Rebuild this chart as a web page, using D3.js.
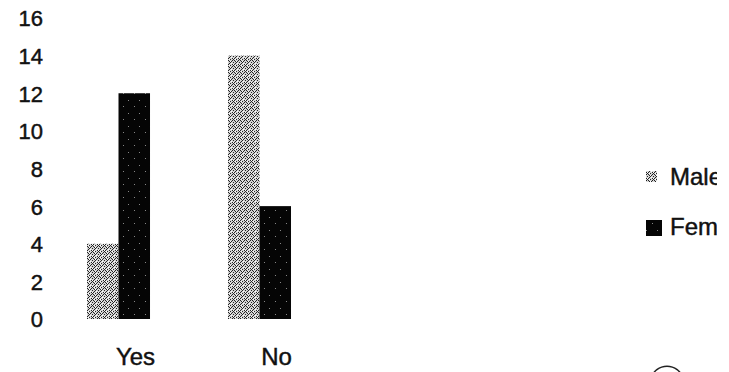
<!DOCTYPE html>
<html>
<head>
<meta charset="utf-8">
<script src="https://cdn.jsdelivr.net/npm/d3@7"></script>
<style>
  html, body { margin: 0; padding: 0; background: #fff; }
  svg { display: block; }
  text { font-family: "Liberation Sans", Arial, sans-serif; fill: #111; stroke: #111; stroke-width: 0.45px; }
</style>
</head>
<body>
<script>
// Survey answers by gender
const categories = ["Yes", "No"];
const seriesNames = ["Male", "Female"];
const maleValues = [4, 14];
const femaleValues = [12, 6];
const yTicks = [0, 2, 4, 6, 8, 10, 12, 14, 16];

const W = 729, H = 372;
const svg = d3.select("body").append("svg").attr("width", W).attr("height", H);

// Stippled fills for the two series
const defs = svg.append("defs");
const maleTile = defs.append("pattern").attr("id", "stipple-light")
  .attr("patternUnits", "userSpaceOnUse").attr("width", 6).attr("height", 6);
maleTile.append("rect").attr("width", 6).attr("height", 6).attr("fill", "#d4d4d4");
[[0,0],[3,1],[1,3],[4,4],[2,5],[5,2],[0,4],[4,0],[2,2],[5,5],[1,1]].forEach(([x, y]) =>
  maleTile.append("rect").attr("x", x).attr("y", y).attr("width", 1).attr("height", 1).attr("fill", "#222"));
[[2,1],[5,4],[1,5],[3,3]].forEach(([x, y]) =>
  maleTile.append("rect").attr("x", x).attr("y", y).attr("width", 1).attr("height", 1).attr("fill", "#fff"));

const femaleTile = defs.append("pattern").attr("id", "stipple-dark")
  .attr("patternUnits", "userSpaceOnUse").attr("width", 11).attr("height", 13);
femaleTile.append("rect").attr("width", 11).attr("height", 13).attr("fill", "#050505");
[[3,2],[8,9]].forEach(([x, y]) =>
  femaleTile.append("rect").attr("x", x).attr("y", y).attr("width", 1).attr("height", 1).attr("fill", "#888"));

const fills = { Male: "url(#stipple-light)", Female: "url(#stipple-dark)" };

// Scales
const y = d3.scaleLinear().domain([0, 16]).range([319, 18]);
const x0 = d3.scaleBand().domain(categories).range([16.5, 361.5]).paddingInner(0.553).paddingOuter(0.5);
const x1 = d3.scaleBand().domain(seriesNames).range([0, x0.bandwidth()]);

const fontFam = "'Liberation Sans', Arial, sans-serif";

// Y axis labels (no axis line)
const yAxis = d3.axisLeft(y).tickValues(yTicks).tickSize(0).tickPadding(0);
const gy = svg.append("g").attr("transform", "translate(43,0)").call(yAxis);
gy.select(".domain").remove();
gy.selectAll("text").style("font-size", "22px").style("font-family", fontFam)
  .attr("fill", "#111").attr("dy", "0.36em");

// Bars
const rows = categories.map((c, i) => ({ cat: c, vals: [
  { name: "Male", v: maleValues[i] }, { name: "Female", v: femaleValues[i] }] }));

const groups = svg.append("g").selectAll("g").data(rows).join("g")
  .attr("transform", d => `translate(${x0(d.cat)},0)`);
groups.selectAll("rect").data(d => d.vals).join("rect")
  .attr("x", d => x1(d.name))
  .attr("y", d => y(d.v))
  .attr("width", x1.bandwidth())
  .attr("height", d => y(0) - y(d.v))
  .attr("fill", d => fills[d.name]);

// Category labels
const xAxis = d3.axisBottom(x0).tickSize(0).tickPadding(0);
const gx = svg.append("g").attr("transform", "translate(17,0)").call(xAxis);
gx.select(".domain").remove();
gx.selectAll("text").style("font-size", "24px").style("font-family", fontFam)
  .attr("fill", "#111").attr("y", 365).attr("dy", 0);

// Legend, cut off at the right edge of the plot frame
defs.append("clipPath").attr("id", "legend-clip")
  .append("rect").attr("x", 600).attr("y", 0).attr("width", 117).attr("height", H);
const legend = svg.append("g").attr("clip-path", "url(#legend-clip)");
const legendPos = [{ name: "Male", sx: 646, sy: 171, s: 11, ty: 185 },
                   { name: "Female", sx: 646, sy: 220, s: 16, ty: 235 }];
legendPos.forEach(l => {
  legend.append("rect").attr("x", l.sx).attr("y", l.sy).attr("width", l.s).attr("height", l.s)
    .attr("fill", fills[l.name]);
  legend.append("text").attr("x", 670).attr("y", l.ty).style("font-size", "24px").text(l.name);
});

// Stamp edge at the bottom right
svg.append("path")
  .attr("d", d3.arc()({ innerRadius: 16, outerRadius: 17.5, startAngle: -1.3, endAngle: 1.3 }))
  .attr("transform", "translate(667,383)").attr("fill", "#222");
</script>
</body>
</html>
